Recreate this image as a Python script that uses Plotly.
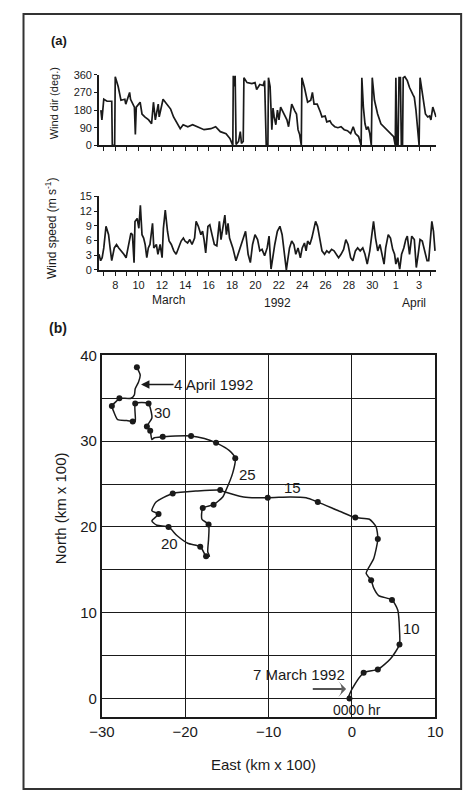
import plotly.graph_objects as go

# ---------------- data ----------------
# Panel (a) wind direction: day of March 1992 (days > 31 are April), degrees
dir_day = [6.77, 6.86, 7.02, 7.30, 7.70, 7.75, 7.95, 8.00, 8.25, 8.49, 8.82, 8.90, 9.23, 9.31,
           9.64, 9.72, 9.80, 10.13, 10.29, 10.53, 10.86, 11.11, 11.27, 11.43, 11.68, 11.76, 12.09,
           12.50, 12.74, 12.99, 13.31, 13.56, 13.81, 14.21, 14.62, 15.03, 15.60, 16.18, 16.59,
           16.99, 17.48, 17.81, 18.06, 18.10, 18.18, 18.26, 18.34, 18.55, 18.70, 18.80, 18.95,
           19.01, 19.28, 19.69, 19.96, 20.10, 20.37, 20.65, 20.78, 20.92, 21.06, 21.11, 21.25,
           21.40, 21.50, 21.60, 21.74, 21.88, 22.01, 22.15, 22.42, 22.69, 22.83, 23.10, 23.37,
           23.51, 23.64, 23.78, 23.92, 23.97, 24.19, 24.33, 24.46, 24.73, 24.87, 25.01, 25.28,
           25.55, 25.69, 25.96, 26.10, 26.37, 26.51, 26.78, 27.05, 27.32, 27.59, 27.87, 28.14,
           28.36, 28.55, 28.82, 29.04, 29.10, 29.23, 29.37, 29.50, 29.64, 29.78, 29.91, 29.99,
           30.18, 30.45, 30.73, 31.00, 31.27, 31.55, 31.82, 31.96, 32.01, 32.10, 32.20, 32.28,
           32.40, 32.48, 32.58, 32.64, 32.78, 32.99, 33.18, 33.46, 33.59, 33.73, 33.87, 34.00,
           34.08, 34.27, 34.41, 34.54, 34.74, 34.90, 35.01, 35.17, 35.31, 35.45]
dir_deg = [180, 130, 235, 225, 225, 0, 0, 350, 300, 230, 235, 210, 270, 235,
           195, 55, 195, 220, 160, 145, 130, 110, 220, 130, 210, 145, 235,
           205, 185, 145, 110, 85, 105, 95, 105, 95, 80, 85, 95,
           70, 60, 35, 0, 355, 300, 355, 5, 20, 70, 10, 20,
           345, 320, 315, 320, 285, 310, 305, 330, 0, 0, 345, 300,
           80, 190, 145, 105, 180, 130, 195, 160, 130, 95, 210, 175,
           160, 80, 55, 0, 345, 295, 245, 220, 230, 270, 210, 210,
           170, 145, 150, 120, 125, 110, 95, 90, 95, 80, 75, 60,
           95, 60, 45, 0, 345, 195, 110, 80, 95, 60, 0, 345,
           230, 160, 110, 95, 80, 60, 45, 0, 345, 0, 0, 345,
           345, 0, 0, 345, 350, 330, 295, 260, 245, 180, 60, 0,
           345, 260, 195, 160, 145, 150, 130, 195, 170, 145]

# Panel (a) wind speed: day of March 1992, m/s
spd_day = [6.61, 6.75, 6.88, 7.02, 7.21, 7.43, 7.56, 7.70, 7.92, 8.11, 8.30, 8.52, 8.74, 8.93,
           9.12, 9.34, 9.47, 9.61, 9.69, 9.88, 10.02, 10.15, 10.29, 10.43, 10.56, 10.70, 10.83,
           10.97, 11.19, 11.30, 11.52, 11.65, 11.84, 12.01, 12.12, 12.28, 12.47, 12.61, 12.80,
           13.01, 13.21, 13.42, 13.64, 13.83, 13.97, 14.19, 14.38, 14.57, 14.79, 14.92, 15.11,
           15.33, 15.47, 15.60, 15.74, 15.93, 16.09, 16.28, 16.48, 16.69, 16.91, 17.05, 17.24,
           17.38, 17.51, 17.65, 17.78, 18.06, 18.33, 18.60, 18.87, 19.15, 19.37, 19.56, 19.75,
           19.96, 20.18, 20.37, 20.56, 20.78, 21.00, 21.16, 21.33, 21.46, 21.65, 21.87, 22.09,
           22.28, 22.47, 22.64, 22.75, 22.91, 23.10, 23.29, 23.45, 23.64, 23.84, 24.00, 24.19,
           24.33, 24.46, 24.65, 24.82, 25.01, 25.14, 25.31, 25.47, 25.69, 25.91, 26.10, 26.29,
           26.51, 26.72, 26.91, 27.11, 27.32, 27.54, 27.73, 27.92, 28.14, 28.33, 28.55, 28.74,
           28.96, 29.18, 29.37, 29.56, 29.78, 29.94, 30.10, 30.27, 30.46, 30.65, 30.81, 31.00,
           31.14, 31.36, 31.55, 31.74, 31.90, 32.01, 32.17, 32.34, 32.50, 32.69, 32.86, 32.99,
           33.18, 33.37, 33.59, 33.76, 33.92, 34.08, 34.27, 34.46, 34.68, 34.82, 34.95, 35.09,
           35.23, 35.36]
spd_val = [3.2, 1.9, 2.5, 4.5, 8.9, 7.2, 4.5, 1.9, 4.5, 5.2, 4.5, 3.9, 3.2, 2.5,
           5.2, 7.5, 7.2, 1.5, 9.9, 10.5, 8.5, 13.2, 7.2, 6.5, 5.2, 2.5, 4.5,
           5.2, 9.5, 4.5, 5.2, 3.2, 5.2, 2.5, 8.5, 12.2, 7.9, 5.9, 5.2,
           3.9, 3.2, 4.5, 5.9, 6.5, 5.9, 5.5, 6.2, 5.2, 6.5, 9.9, 8.9,
           7.2, 7.9, 6.2, 3.5, 8.9, 9.2, 7.2, 5.2, 4.9, 9.9, 6.2, 8.9,
           11.2, 7.2, 9.5, 6.5, 4.5, 1.9, 3.9, 5.9, 7.9, 3.2, 1.5, 5.2,
           7.2, 6.2, 3.9, 4.2, 2.9, 4.5, 6.9, 0.2, 2.5, 5.2, 7.9, 8.9,
           7.2, 3.2, 0.0, 1.9, 4.5, 5.9, 5.2, 3.2, 4.5, 2.5, 4.5, 5.5,
           3.9, 5.9, 5.2, 6.5, 8.2, 9.9, 8.9, 6.5, 3.9, 3.2, 3.9, 3.5,
           4.2, 3.9, 3.2, 2.5, 3.2, 4.2, 6.2, 5.2, 2.5, 1.9, 3.9, 4.5,
           3.9, 4.5, 3.2, 1.2, 3.9, 7.2, 9.9, 6.5, 3.9, 5.2, 3.2, 1.2,
           4.5, 7.2, 6.5, 4.2, 3.2, 1.2, 2.5, 0.2, 3.2, 4.5, 6.2, 6.9,
           3.2, 6.9, 6.2, 0.5, 3.2, 6.2, 5.9, 3.9, 1.9, 1.9, 5.2, 9.9,
           7.9, 3.9]

# day ticks / labels
label_days = [8, 10, 12, 14, 16, 18, 20, 22, 24, 26, 28, 30, 32, 34]
label_text = ["8", "10", "12", "14", "16", "18", "20", "22", "24", "26", "28", "30", "1", "3"]
dir_ticks = [0, 90, 180, 270, 360]
spd_ticks = [0, 3, 6, 9, 12, 15]

# Panel (b) drift track (km x 100)
trk_east = [-0.5, 0.0, 1.4, 3.1, 4.6, 5.7, 5.7, 5.5, 4.8, 3.2, 2.6, 2.3, 1.7, 2.6, 3.1, 2.9, 2.1,
            0.4, -1.4, -4.1, -5.5, -7.4, -10.1, -13.0, -15.3, -15.8, -18.5, -21.5, -23.5, -24.0,
            -23.2, -24.0, -23.4, -22.0, -21.0, -19.7, -18.2, -17.7, -17.5, -17.1, -17.3, -17.2,
            -17.2, -18.0, -17.9, -16.6, -15.5, -15.1, -14.3, -14.0, -14.7, -16.3, -17.7, -19.3,
            -21.2, -22.7, -23.7, -24.0, -24.2, -24.6, -24.0, -24.2, -24.4, -25.2, -26.0, -26.0,
            -26.3, -27.0, -28.1, -28.6, -28.8, -28.2, -27.9, -26.5, -26.1, -26.0, -25.6, -25.4,
            -25.8]
trk_north = [0.0, 1.1, 3.0, 3.4, 4.6, 6.3, 8.0, 10.3, 11.5, 12.0, 12.9, 13.8, 14.6, 16.3, 18.6,
             20.0, 20.9, 21.1, 21.8, 22.9, 23.4, 23.5, 23.4, 23.5, 24.1, 24.3, 24.2, 23.9, 22.9,
             21.9, 21.5, 20.7, 20.2, 20.0, 19.0, 18.1, 17.7, 16.9, 16.5, 16.6, 17.1, 18.6, 20.3,
             20.9, 22.2, 22.6, 23.5, 24.3, 26.3, 28.0, 28.9, 29.8, 30.3, 30.6, 30.6, 30.5, 30.4,
             30.2, 31.2, 31.7, 32.7, 33.9, 34.4, 34.5, 34.4, 32.3, 32.3, 32.4, 32.5, 33.5, 34.1,
             34.7, 35.0, 35.0, 35.4, 36.1, 36.9, 37.7, 38.6]
dot_east = [-0.3, 1.4, 3.1, 5.7, 4.8, 2.3, 3.1, 0.4, -4.1, -10.1, -15.8, -21.5, -23.2, -22.0,
            -18.2, -17.5, -17.2, -17.9, -16.6, -14.0, -16.3, -19.3, -22.7, -24.2, -24.6, -24.4,
            -26.0, -26.3, -28.8, -27.9, -25.8]
dot_north = [0.0, 3.0, 3.4, 6.3, 11.5, 13.8, 18.6, 21.1, 22.9, 23.4, 24.3, 23.9, 21.5, 20.0,
             17.7, 16.6, 20.3, 22.2, 22.6, 28.0, 29.8, 30.6, 30.5, 31.2, 31.7, 34.4, 34.4, 32.3,
             34.1, 35.0, 38.6]
day_labels = ["10", "15", "20", "25", "30"]
day_label_e = [7.2, -7.1, -21.9, -12.5, -22.7]
day_label_n = [8.2, 24.6, 18.1, 26.1, 33.3]
# start arrow ("7 March 1992"): tail and head, km x 100
start_arrow_e = [-4.7, -0.7]
start_arrow_n = [1.1, 1.1]
xb_ticks = [-30, -20, -10, 0, 10]
yb_ticks = [0, 10, 20, 30, 40]

# ---------------- figure ----------------
FONT = "Liberation Sans, Arial, sans-serif"
INK = "#1a1a1a"
W, H = 472, 798

def px(x):
    return x / W

def py(y):
    return 1 - y / H

fig = go.Figure()
fig.add_trace(go.Scatter(x=dir_day, y=dir_deg, mode="lines",
                         line=dict(color=INK, width=1.7), xaxis="x", yaxis="y"))
fig.add_trace(go.Scatter(x=spd_day, y=spd_val, mode="lines",
                         line=dict(color=INK, width=1.7), xaxis="x2", yaxis="y2"))
fig.add_trace(go.Scatter(x=trk_east, y=trk_north, mode="lines",
                         line=dict(color=INK, width=1.5, shape="spline", smoothing=0.6),
                         xaxis="x3", yaxis="y3"))
fig.add_trace(go.Scatter(x=dot_east, y=dot_north, mode="markers",
                         marker=dict(color=INK, size=6), xaxis="x3", yaxis="y3"))
fig.add_trace(go.Scatter(x=start_arrow_e, y=start_arrow_n, mode="lines+markers",
                         line=dict(color=INK, width=1.5),
                         marker=dict(symbol="arrow-wide", size=[0, 11], angleref="previous",
                                     color=INK, line=dict(width=0)),
                         xaxis="x3", yaxis="y3"))

xr = [6.61, 35.47]
day_minor = dict(ticks="outside", ticklen=4, tickwidth=1.3, tickcolor=INK, tick0=0, dtick=1)
axis_a = dict(showline=True, linecolor=INK, linewidth=1.6, ticks="outside", ticklen=4,
              tickwidth=1.3, tickcolor=INK, showgrid=False, zeroline=False, mirror=False,
              tickfont=dict(family=FONT, size=11, color=INK))

fig.update_layout(
    width=W, height=H, autosize=False,
    margin=dict(l=0, r=0, t=0, b=0),
    paper_bgcolor="white", plot_bgcolor="white",
    showlegend=False,
    xaxis=dict(axis_a, domain=[px(90), px(443)], range=xr, anchor="y",
               tickvals=label_days, showticklabels=False, minor=day_minor),
    yaxis=dict(axis_a, domain=[py(139), py(67)], range=[0, 360], anchor="x",
               tickvals=dir_ticks, ticklen=3),
    xaxis2=dict(axis_a, domain=[px(90), px(443)], range=xr, anchor="y2",
                tickvals=label_days, ticktext=label_text, minor=day_minor),
    yaxis2=dict(axis_a, domain=[py(266), py(191)], range=[0, 15], anchor="x2",
                tickvals=spd_ticks, ticklen=3),
    xaxis3=dict(domain=[px(93), px(442)], range=[-30, 10], anchor="y3",
                showline=True, mirror=True, linecolor=INK, linewidth=1.8,
                showgrid=True, gridcolor=INK, gridwidth=1.4, zeroline=False,
                ticks="", tickvals=xb_ticks,
                tickfont=dict(family=FONT, size=15, color=INK)),
    yaxis3=dict(domain=[py(722), py(353)], range=[-2.2, 40], anchor="x3",
                showline=True, mirror=True, linecolor=INK, linewidth=1.8,
                showgrid=True, gridcolor=INK, gridwidth=1.4, zeroline=False,
                ticks="", tickvals=yb_ticks,
                minor=dict(tick0=0, dtick=5, showgrid=True, gridcolor=INK, gridwidth=1.4,
                           ticks=""),
                tickfont=dict(family=FONT, size=15, color=INK)),
)

ann = []

def paper_text(text, x, y, size, angle=0):
    ann.append(dict(text=text, x=px(x), y=py(y), xref="paper", yref="paper",
                    showarrow=False, textangle=angle, xanchor="center", yanchor="middle",
                    font=dict(family=FONT, size=size, color=INK)))

paper_text("<b>(a)</b>", 48, 32, 13)
paper_text("<b>(b)</b>", 47, 325, 14)
paper_text("Wind dir (deg.)", 43, 96, 11, -90)
paper_text("Wind speed (m s<sup>-1</sup>)", 40, 224, 12, -90)
paper_text("March", 163, 297, 12)
paper_text("1992", 277, 300, 12)
paper_text("April", 420, 300, 12)
paper_text("North (km x 100)", 50, 509, 15, -90)
paper_text("East (km x 100)", 262, 770, 15)

for t, e, n in zip(day_labels, day_label_e, day_label_n):
    ann.append(dict(text=t, x=e, y=n, xref="x3", yref="y3", showarrow=False,
                    font=dict(family=FONT, size=15, color=INK)))

# "4 April 1992" with arrow from the text to the end of the track
ann.append(dict(text="4 April 1992", x=-25.3, y=36.6, ax=-16.6, ay=36.6,
                xref="x3", yref="y3", axref="x3", ayref="y3",
                showarrow=True, arrowhead=2, arrowsize=1.2, arrowwidth=1.4,
                arrowcolor=INK, borderpad=0, font=dict(family=FONT, size=15, color=INK)))
ann.append(dict(text="7 March 1992", x=-6.4, y=2.75, xref="x3", yref="y3", showarrow=False,
                font=dict(family=FONT, size=15, color=INK)))
ann.append(dict(text="0000 hr", x=0.6, y=-1.35, xref="x3", yref="y3", showarrow=False,
                font=dict(family=FONT, size=14, color=INK)))

fig.update_layout(annotations=ann)

fig.add_shape(type="rect", xref="paper", yref="paper",
              x0=px(11), x1=px(469), y0=py(795), y1=py(5),
              line=dict(color="#333", width=2))

fig.write_html("out.html")
